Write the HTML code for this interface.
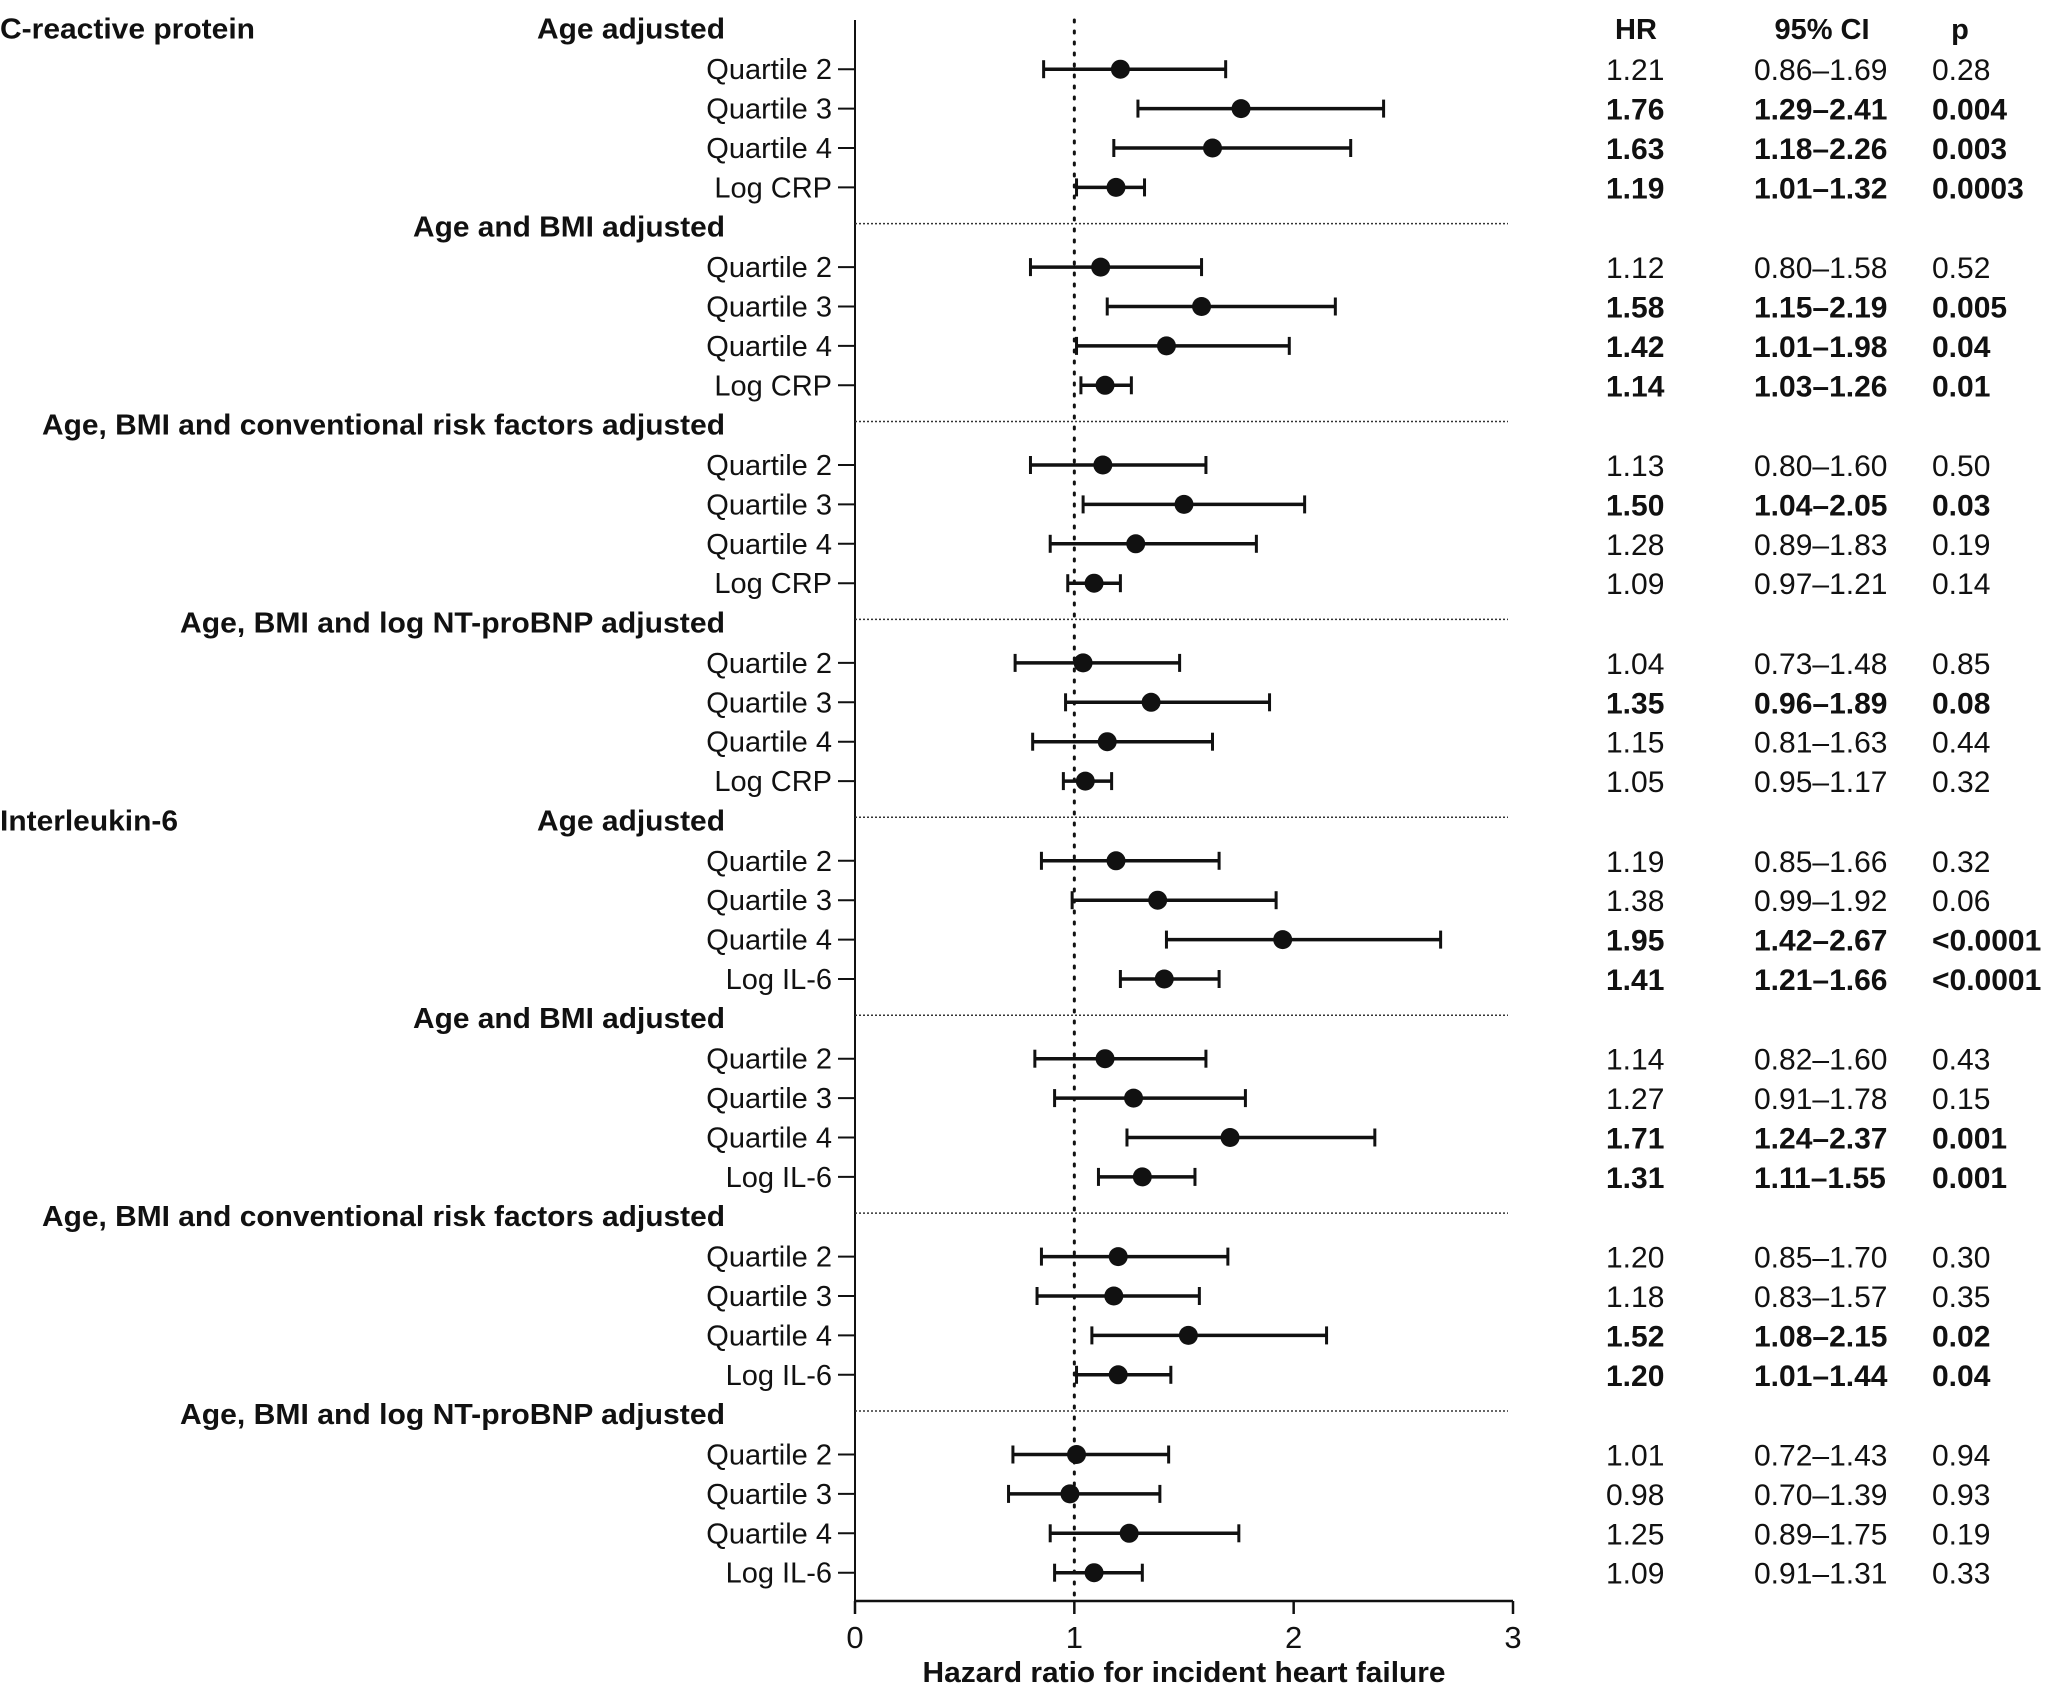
<!DOCTYPE html>
<html><head><meta charset="utf-8"><style>
html,body{margin:0;padding:0;background:#fff;}
svg{display:block;}
text{font-family:"Liberation Sans Narrow","Liberation Sans",sans-serif;fill:#111;}
.tbl{font-family:"Liberation Sans",sans-serif;}
</style></head><body>
<svg id="chart" width="2048" height="1688" viewBox="0 0 2048 1688"></svg>
<script>
const groupTitles=["Age adjusted","Age and BMI adjusted","Age, BMI and conventional risk factors adjusted","Age, BMI and log NT-proBNP adjusted","Age adjusted","Age and BMI adjusted","Age, BMI and conventional risk factors adjusted","Age, BMI and log NT-proBNP adjusted"];
const markerNames=["C-reactive protein","Interleukin-6"];
const rowLabelsCRP=["Quartile 2","Quartile 3","Quartile 4","Log CRP"];
const rowLabelsIL6=["Quartile 2","Quartile 3","Quartile 4","Log IL-6"];
const hr=[1.21,1.76,1.63,1.19, 1.12,1.58,1.42,1.14, 1.13,1.50,1.28,1.09, 1.04,1.35,1.15,1.05,
          1.19,1.38,1.95,1.41, 1.14,1.27,1.71,1.31, 1.20,1.18,1.52,1.20, 1.01,0.98,1.25,1.09];
const ciLow=[0.86,1.29,1.18,1.01, 0.80,1.15,1.01,1.03, 0.80,1.04,0.89,0.97, 0.73,0.96,0.81,0.95,
          0.85,0.99,1.42,1.21, 0.82,0.91,1.24,1.11, 0.85,0.83,1.08,1.01, 0.72,0.70,0.89,0.91];
const ciHigh=[1.69,2.41,2.26,1.32, 1.58,2.19,1.98,1.26, 1.60,2.05,1.83,1.21, 1.48,1.89,1.63,1.17,
          1.66,1.92,2.67,1.66, 1.60,1.78,2.37,1.55, 1.70,1.57,2.15,1.44, 1.43,1.39,1.75,1.31];
const pText=["0.28","0.004","0.003","0.0003","0.52","0.005","0.04","0.01","0.50","0.03","0.19","0.14","0.85","0.08","0.44","0.32",
          "0.32","0.06","<0.0001","<0.0001","0.43","0.15","0.001","0.001","0.30","0.35","0.02","0.04","0.94","0.93","0.19","0.33"];
const boldRow=[0,1,1,1, 0,1,1,1, 0,1,0,0, 0,1,0,0, 0,0,1,1, 0,0,1,1, 0,0,1,1, 0,0,0,0];
const xTicks=[0,1,2,3];
const xMin=0,xMax=3;

const NS="http://www.w3.org/2000/svg";
const svg=document.getElementById("chart");
const X0=855,X1=1513;
function xs(v){return X0+(v-xMin)/(xMax-xMin)*(X1-X0);}
function rowY(i){const g=Math.floor(i/4),r=i%4;return 69.2+g*197.9+r*39.4;}
function headY(g){return 28.7+g*197.9;}
function mk(tag,attrs,txt){const e=document.createElementNS(NS,tag);for(const k in attrs)e.setAttribute(k,attrs[k]);if(txt!==undefined)e.textContent=txt;svg.appendChild(e);return e;}
const fmt=v=>v.toFixed(2);
const AXY=1601;
const headW={"Age adjusted":188,"Age and BMI adjusted":312,"Age, BMI and conventional risk factors adjusted":683,"Age, BMI and log NT-proBNP adjusted":545};
const markW=[255,178];
let e;
e=mk("line",{x1:X0,y1:20,x2:X0,y2:AXY,stroke:"#111","stroke-width":2});


e=mk("line",{x1:X0,y1:AXY,x2:X1,y2:AXY,stroke:"#111","stroke-width":2.5});


e=mk("line",{x1:xs(1),y1:20,x2:xs(1),y2:AXY,stroke:"#111","stroke-width":3,"stroke-dasharray":"2 9","stroke-linecap":"round"});


xTicks.forEach(t=>{
  e=mk("line",{x1:xs(t),y1:AXY,x2:xs(t),y2:AXY+13,stroke:"#111","stroke-width":2.5});
  
  
  e=mk("text",{x:xs(t),y:1648,"text-anchor":"middle","font-size":31},String(t));
  
  
});
e=mk("text",{x:xs(1.5),y:1682,"text-anchor":"middle","font-size":29,"font-weight":"bold",textLength:523,lengthAdjust:"spacingAndGlyphs"},"Hazard ratio for incident heart failure");


[["HR",1636],["95% CI",1822],["p",1960]].forEach(([t,x])=>{
  e=mk("text",{x:x,y:39,"text-anchor":"middle","font-size":29,"font-weight":"bold","class":"tbl"},t);
  
  
});
markerNames.forEach((m,k)=>{
  e=mk("text",{x:0,y:headY(k*4)+10,"font-size":29,"font-weight":"bold",textLength:markW[k],lengthAdjust:"spacingAndGlyphs"},m);
  
  
});
groupTitles.forEach((t,g)=>{
  e=mk("text",{x:725,y:headY(g)+10,"text-anchor":"end","font-size":29,"font-weight":"bold",textLength:headW[t],lengthAdjust:"spacingAndGlyphs"},t);
  
  
  if(g>0){
    e=mk("line",{x1:X0,y1:headY(g)-3,x2:1508,y2:headY(g)-3,stroke:"#333","stroke-width":1.5,"stroke-dasharray":"2 2"});
    
    
  }
});
hr.forEach((v,i)=>{
  const y=rowY(i), lab=(i<16?rowLabelsCRP:rowLabelsIL6)[i%4];
  e=mk("text",{x:832,y:y+10,"text-anchor":"end","font-size":29},lab);
  
  
  e=mk("line",{x1:838,y1:y,x2:X0,y2:y,stroke:"#111","stroke-width":2});
  
  
  e=mk("line",{x1:xs(ciLow[i]),y1:y,x2:xs(ciHigh[i]),y2:y,stroke:"#111","stroke-width":3.5});
  
  
  [ciLow[i],ciHigh[i]].forEach(c=>{
    e=mk("line",{x1:xs(c),y1:y-9,x2:xs(c),y2:y+9,stroke:"#111","stroke-width":3});
    
    
  });
  e=mk("circle",{cx:xs(v),cy:y,r:9.5,fill:"#111"});
  
  
  const w=boldRow[i]?"bold":"normal";
  e=mk("text",{x:1606,y:y+11,"font-size":30,"font-weight":w,"class":"tbl"},fmt(v));
  
  
  e=mk("text",{x:1754,y:y+11,"font-size":30,"font-weight":w,"class":"tbl"},fmt(ciLow[i])+"–"+fmt(ciHigh[i]));
  
  
  e=mk("text",{x:1932,y:y+11,"font-size":30,"font-weight":w,"class":"tbl"},pText[i]);
  
  
});
</script>
</body></html>
